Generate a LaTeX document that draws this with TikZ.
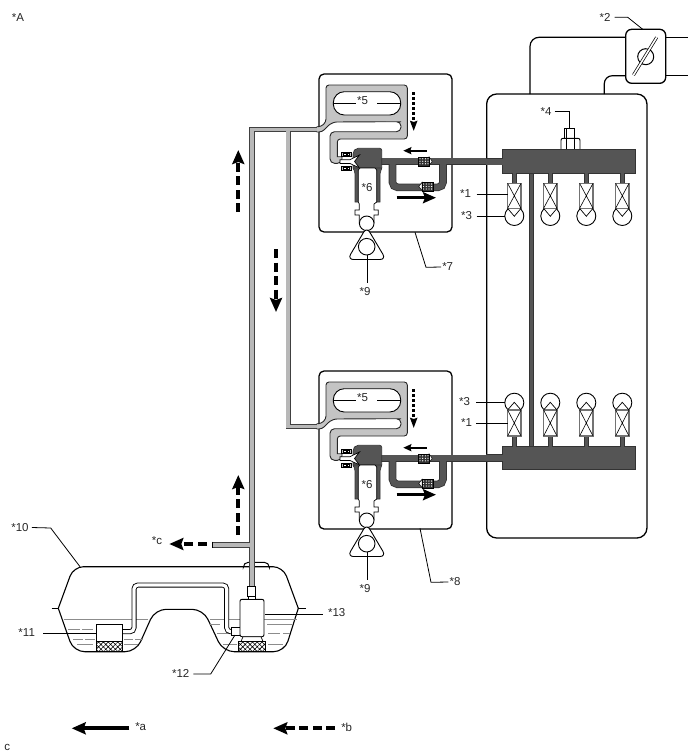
\documentclass[tikz,border=0pt]{standalone}
\usepackage{xcolor}
\usepackage{fontspec}
\setmainfont{Liberation Sans}
\usepackage{tikz}
\usetikzlibrary{arrows.meta, positioning, patterns.meta}

\definecolor{gasdark}{HTML}{555555}
\definecolor{gasedge}{HTML}{333333}
\definecolor{hoselight}{HTML}{C4C4C4}
\definecolor{pipegray}{HTML}{B8B8B8}
\definecolor{fuelgray}{HTML}{8C8C8C}

\begin{document}
\begin{tikzpicture}[
    x=1pt, y=-1pt,
    label/.style={font=\fontsize{11.5}{13}\selectfont, text=black!85, inner sep=1pt},
    leader/.style={line width=0.8pt},
    outline/.style={draw, line width=1.3pt, rounded corners=5pt, inner sep=0pt, outer sep=0pt},
    darkedge/.style={line width=7.6pt, color=gasedge, rounded corners=5pt},
    darkcore/.style={line width=6pt, color=gasdark, rounded corners=5pt},
    pipeedge/.style={line width=5.6pt, color=black!75},
    pipecore/.style={line width=3.8pt, color=pipegray},
    flow/.style={-{Stealth[length=14pt, width=12pt, inset=2pt]}, line width=4pt},
    flowdash/.style={flow, dash pattern=on 9pt off 4.5pt},
    smallflow/.style={-{Stealth[length=9pt, width=8pt, inset=1pt]}, line width=2.4pt},
    mesh/.style={draw, line width=0.6pt, pattern={Hatch[angle=45, distance=3.4pt, line width=0.6pt]}},
    fuel/.style={line width=0.7pt, color=fuelgray},
    hoseline/.style={line width=1.2pt},
]
\useasboundingbox (0,0) rectangle (688,755);

% Engine outline and throttle
\node[outline, rounded corners=10pt, minimum width=160.3pt, minimum height=444pt] (engine) at (566.8,316) {};
\node[outline, rounded corners=6pt, minimum width=40pt, minimum height=54pt] (throttle) at (645.7,56.3) {};
\draw[hoseline, rounded corners=9pt] (530,94) -- (530,37.3) -- (throttle.west |- 0,37.3);
\draw[hoseline, rounded corners=8pt] (604.3,94) -- (604.3,75.7) -- (throttle.west |- 0,75.7);
\draw[hoseline] (throttle.east |- 0,37.3) -- (688,37.3);
\draw[hoseline] (throttle.east |- 0,75.7) -- (688,75.7);
\draw[line width=1pt] (645.7,56.7) circle [radius=8pt];
\draw[line width=3pt] (633.5,75) -- (656.7,37.3);
\draw[line width=1.6pt, white] (633.5,75) -- (656.7,37.3);

% Pressure sensor on the rail
\draw[line width=0.8pt, fill=white] (564.3,138.3) rectangle (574.3,128.3);
\draw[line width=0.5pt] (566.7,128.3) -- (566.7,138.3);
\draw[line width=0.9pt, fill=white, rounded corners=2pt] (561,149.5) -- (561,138.3) -- (580,138.3) -- (580,149.5);
\draw[line width=0.5pt] (566.7,138.3) -- (566.7,149.3) (574.3,138.3) -- (574.3,149.3);

% Rails and balance pipe
\draw[line width=4.8pt, color=gasedge] (531.7,172) -- (531.7,447);
\draw[line width=3.2pt, color=gasdark] (531.7,172) -- (531.7,447);
\node[draw=gasedge, fill=gasdark, line width=0.7pt, minimum width=132.7pt, minimum height=24pt, inner sep=0pt, outer sep=0pt] (railup) at (568.7,161.3) {};
\node[draw=gasedge, fill=gasdark, line width=0.7pt, minimum width=132.7pt, minimum height=23.3pt, inner sep=0pt, outer sep=0pt] (raillow) at (568.7,457.7) {};

% Injectors with spark plugs, upper bank and lower bank
\foreach \ix in {514.3,550.3,586.3,622.3} {
    \draw[line width=4.8pt, color=gasedge] (\ix,173) -- (\ix,184);
    \draw[line width=3.2pt, color=gasdark] (\ix,173) -- (\ix,184);
    \draw[line width=0.9pt, fill=white] (\ix,216) circle [radius=9.5pt];
    \draw[line width=1.2pt, color=black!55, fill=white] (\ix-6.7,183.3) rectangle (\ix+6.7,208.3);
    \draw[line width=0.6pt] (\ix-6.7,183.3) -- (\ix+6.7,208.3) (\ix+6.7,183.3) -- (\ix-6.7,208.3);
    \draw[line width=0.7pt] (\ix-6.7,208.3) -- (\ix,216.3) -- (\ix+6.7,208.3);
    \draw[line width=4.8pt, color=gasedge] (\ix,435) -- (\ix,447);
    \draw[line width=3.2pt, color=gasdark] (\ix,435) -- (\ix,447);
    \draw[line width=0.9pt, fill=white] (\ix,402.7) circle [radius=9.5pt];
    \draw[line width=1.2pt, color=black!55, fill=white] (\ix-6.7,410) rectangle (\ix+6.7,436);
    \draw[line width=0.6pt] (\ix-6.7,410) -- (\ix+6.7,436) (\ix+6.7,410) -- (\ix-6.7,436);
    \draw[line width=0.7pt] (\ix-6.7,410) -- (\ix,402.3) -- (\ix+6.7,410);
}

% Gas module, drawn for both banks
\foreach \dy/\id in {0/up, 297/low} {
\begin{scope}[shift={(0,\dy)}]
    \node[outline, minimum width=133pt, minimum height=158pt] (box\id) at (385.5,153) {};

    % dark supply pipe, bypass and valve body
    \draw[darkedge] (392.5,165) -- (392.5,187.3) -- (443,187.3) -- (443,165);
    \draw[darkedge, rounded corners=0pt] (378,161.3) -- (503,161.3);
    \draw[darkcore] (392.5,162) -- (392.5,187.3) -- (443,187.3) -- (443,162);
    \draw[darkcore, rounded corners=0pt] (378,161.3) -- (504,161.3);
    \draw[fill=gasdark, draw=gasedge, line width=0.7pt, rounded corners=2pt] (353,170) -- (353,152) -- (356,148.3) -- (381.7,148.3) -- (381.7,170) -- cycle;

    % purge hose around the canister
    \path[fill=hoselight, draw=black!85, line width=0.9pt, rounded corners=3pt]
        (316.7,132) -- (322,132) [rounded corners=5pt] -- (332,122) -- (396,121.7)
        [rounded corners=4.5pt] -- (401,121.7) -- (401,131.7) -- (330,131.7)
        -- (330,163.3) -- (342,163.3) [sharp corners] -- (342,156.7) -- (337.3,156.7)
        [rounded corners=3pt] -- (337.3,139) -- (407.3,139) -- (407.3,85) -- (326,85) -- (326,122)
        -- (321,126.7) -- (316.7,126.7);
    \draw[fill=white, line width=0.9pt, rounded corners=11pt] (333.3,91.7) rectangle (400.7,115);
    \node[label] (five\id) at (362.5,100.7) {*5};
    \draw[leader] (333.3,103.3) -- (five\id.west |- 0,103.3) (377.3,103.3) -- (400.7,103.3);

    % solenoids and nozzle
    \foreach \ry in {152, 166} {
        \draw[fill=hoselight, line width=0.7pt] (341.7,\ry) rectangle (351,\ry+4.8);
        \draw[fill=white, line width=0.4pt] (343.2,\ry+1.3) rectangle (346,\ry+3.5);
        \draw[fill=white, line width=0.4pt] (346.7,\ry+1.3) rectangle (349.5,\ry+3.5);
    }
    \draw[fill=white, line width=0.7pt] (340,159.7) -- (350,159.7) -- (359.5,155) -- (354.5,161.5) -- (359.5,168) -- (350,163.5) -- (340,163.5) -- cycle;

    % injector walls and mixer
    \draw[fill=gasdark, draw=gasedge, line width=0.6pt] (353.5,168) -- (355,174) -- (355,202) -- (380,202) -- (380,174) -- (381.7,168) -- cycle;
    \draw[fill=white, line width=0.7pt] (358.3,170) -- (360,168) -- (375,168) -- (376.7,170) -- (376.7,202) -- (374,204) -- (374,210) -- (378.3,210) -- (378.3,215) -- (374,215) -- (374,223) -- (359.3,223) -- (359.3,215) -- (355,215) -- (355,210) -- (359.3,210) -- (359.3,204) -- (358.3,202) -- cycle;
    \node[label] (six\id) at (367,187.3) {*6};

    % cam and follower
    \draw[fill=white, line width=0.9pt] (366.7,223.3) circle [radius=7.3pt];
    \draw[fill=white, line width=0.9pt, rounded corners=6pt] (366.7,227) -- (347.5,259.5) -- (386,259.5) -- cycle;
    \draw[line width=0.9pt] (366.7,246.7) circle [radius=8.3pt];
    \node[label] (nine\id) at (365,292) {*9};
    \draw[leader] (367.3,255) -- (367.3,283);

    % check valves on the bypass
    \draw[line width=0.5pt, fill=white] (429,156.7) -- (432.2,161.3) -- (429,166) -- cycle;
    \draw[line width=0.5pt, fill=white] (422,182.3) -- (418.8,186.5) -- (422,190.7) -- cycle;
    \draw[fill=gasedge, draw=black] (418.3,156.7) rectangle (429.3,166);
    \draw[fill=gasedge, draw=black] (421.7,182.3) rectangle (432.7,190.7);
    \foreach \qx in {420,422.7,425.4,428} {
        \foreach \qy in {158.8,161.3,163.8} {\fill[white] (\qx,\qy) circle [radius=0.65pt];}
    }
    \foreach \qx in {423.5,426.2,428.9,431.6} {
        \foreach \qy in {184,186.5,189} {\fill[white] (\qx,\qy) circle [radius=0.65pt];}
    }

    % flow arrows inside the module
    \draw[-{Stealth[length=10pt, width=7pt, inset=1pt]}, line width=2.6pt, dash pattern=on 2.6pt off 2.4pt] (413.7,92.3) -- (413.7,131);
    \draw[smallflow, -{Stealth[length=8pt, width=7pt, inset=1pt]}] (426.7,150.7) -- (403.3,150.7);
    \draw[flow, line width=3pt, -{Stealth[length=13pt, width=11pt, inset=2pt]}] (396.7,197.7) -- (436,197.7);
\end{scope}
}

% Tank
\draw[line width=1pt, rounded corners=5pt] (243.3,566.7) -- (243.3,562.3) -- (269.3,562.3) -- (269.3,566.7);
\draw[line width=1.1pt, rounded corners=10pt] (58.3,608.3) -- (73.5,566.7) -- (283,566.7) -- (298.3,608.3);
\draw[line width=1.1pt, rounded corners=11pt] (58.3,608.3) -- (73.6,651.7) -- (136.1,651.7) -- (155,609.3) -- (203.2,609.3) -- (223.1,651.7) -- (284.6,651.7) -- (298.3,608.3);
\draw[line width=1pt] (51.7,608.3) -- (58.3,608.3) (298.3,608.3) -- (306,608.3);
\draw[fuel] (63.5,619) -- (148,619) (210,619) -- (296.5,619);
\foreach \xa/\xb/\yy in {68/80/629.3, 82/93/629.3, 73/83/639.3, 85/95/639.3, 77/93/644.3,
    124/130/629.3, 124/133/639.3, 135/143/639.3, 124/138/644.3,
    210/220/624, 217/230/633, 223/237/644,
    267/292/624, 268/280/633, 283/290/633, 268/283/644} {
    \draw[fuel] (\xa,\yy) -- (\xb,\yy);
}

% Return hose, sender and pump
\draw[line width=5pt, rounded corners=4pt] (122,631.7) -- (134,631.7) -- (134,585) -- (226.7,585) -- (226.7,631.7) -- (233,631.7);
\draw[line width=3.2pt, white, rounded corners=4pt] (122,631.7) -- (134,631.7) -- (134,585) -- (226.7,585) -- (226.7,631.7) -- (233,631.7);
\node[draw, fill=white, line width=0.9pt, minimum width=26.3pt, minimum height=16.7pt, inner sep=0pt, outer sep=0pt] (sender) at (109.2,632.7) {};
\node[mesh, minimum width=26.3pt, minimum height=10pt, inner sep=0pt, outer sep=0pt, below=0pt of sender] (sendermesh) {};
\draw[fill=white, line width=0.8pt] (231.7,627.3) rectangle (241,635);
\node[draw, fill=white, line width=0.9pt, rounded corners=2pt, minimum width=24pt, minimum height=37.4pt, inner sep=0pt, outer sep=0pt] (pump) at (252,618) {};
\draw[fill=white, line width=0.7pt] (243,636.7) -- (241,641.5) -- (263,641.5) -- (261,636.7) -- cycle;
\node[mesh, minimum width=27.4pt, minimum height=9.6pt, inner sep=0pt, outer sep=0pt] (pumpmesh) at (252,646.4) {};
\draw[line width=0.7pt, fill=white] (248.5,596.7) rectangle (255.5,599.3);

% Fuel pipes
\draw[pipeedge] (251.7,587) -- (251.7,129.4) -- (317.2,129.4);
\draw[pipeedge] (288.3,129.4) -- (288.3,426.4) -- (317.2,426.4);
\draw[pipeedge] (251.7,544.7) -- (212,544.7);
\draw[pipecore] (251.7,587) -- (251.7,129.4) -- (317.2,129.4);
\draw[pipecore] (288.3,129.4) -- (288.3,426.4) -- (317.2,426.4);
\draw[pipecore] (251.7,544.7) -- (212,544.7);
\draw[line width=0.6pt] (211.8,541.6) -- (211.8,547.8);
\node[draw, fill=white, line width=0.9pt, minimum width=8pt, minimum height=10.7pt, inner sep=0pt, outer sep=0pt] (pumpcap) at (251.7,591.3) {};

% Supply pipes to the rails go on top of the engine outline
\draw[line width=7.6pt, color=gasedge] (486,161.5) -- (503,161.5);
\draw[line width=6pt, color=gasdark] (486,161.5) -- (504,161.5);
\draw[line width=7.6pt, color=gasedge] (486,458) -- (503,458);
\draw[line width=6pt, color=gasdark] (486,458) -- (504,458);

% === Flow arrows ===
\draw[flowdash] (238.3,212) -- (238.3,150);
\draw[flowdash] (276,249) -- (276,312);
\draw[flowdash] (238.3,535) -- (238.3,475);
\draw[flowdash] (206.7,544) -- (169.3,544);
\draw[flow] (129.3,728.3) -- (71.7,728.3);
\draw[flowdash] (335,728.3) -- (273.3,728.3);

% === Labels and leaders ===
\node[label] (lblA) at (18,18) {*A};
\node[label] (lbl2) at (605,17.3) {*2};
\draw[leader] (lbl2.east) ++(3,0) -- (627.7,17.3) -- ([xshift=-3pt]throttle.north);
\node[label] (lbl4) at (546,111.7) {*4};
\draw[leader] (lbl4.east) ++(2,0) -- (569.3,111.7) -- (569.3,128.3);
\node[label] (lbl1a) at (465.5,193.5) {*1};
\node[label] (lbl3a) at (466.5,216) {*3};
\draw[leader] (476.7,194) -- (507.7,194);
\draw[leader] (476.7,216) -- (505,216);
\node[label] (lbl3b) at (464.5,402) {*3};
\node[label] (lbl1b) at (466.5,423) {*1};
\draw[leader] (476,402.3) -- (505,402.3);
\draw[leader] (476,423.3) -- (507.7,423.3);
\node[label] (lbl7) at (447.7,267) {*7};
\draw[leader] (415,232.3) -- (426,267.3) -- (lbl7.west);
\node[label] (lbl8) at (455,582) {*8};
\draw[leader] (420,528.3) -- (431,582.3) -- (lbl8.west);
\node[label] (lbl10) at (20,527.5) {*10};
\draw[leader] (lbl10.east) ++(2,0) -- (50.7,528) -- (80,566.7);
\node[label] (lblc) at (157,541) {*c};
\node[label] (lbl11) at (26.7,633) {*11};
\draw[leader] (43.3,633.3) -- (sender.west |- 0,633.3);
\node[label] (lbl13) at (336.7,613) {*13};
\draw[leader] (265,614) -- (323.3,614);
\node[label] (lbl12) at (180.7,673.5) {*12};
\draw[leader] (193.3,674) -- (210.7,674) -- (235,635);
\node[label] (lbla) at (140.7,727) {*a};
\node[label] (lblb) at (346.7,727) {*b};
\node[label] (lblcc) at (7.3,747.5) {c};

\end{tikzpicture}
\end{document}
